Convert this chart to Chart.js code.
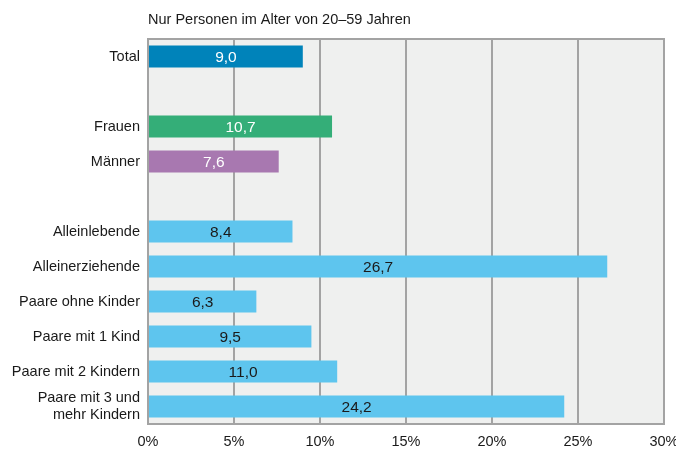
<!DOCTYPE html>
<html><head><meta charset="utf-8">
<script src="https://cdn.jsdelivr.net/npm/chart.js@4/dist/chart.umd.min.js"></script>
<style>html,body{margin:0;padding:0;background:#fff;}#wrap{width:676px;height:451px;}</style>
</head><body><div id="wrap"><canvas id="c" width="676" height="451"></canvas></div>
<script>
const categories = ["Total", "", "Frauen", "Männer", "", "Alleinlebende", "Alleinerziehende", "Paare ohne Kinder", "Paare mit 1 Kind", "Paare mit 2 Kindern", ["Paare mit 3 und", "mehr Kindern"]];
const values = [9.0, null, 10.7, 7.6, null, 8.4, 26.7, 6.3, 9.5, 11.0, 24.2];
const barColors = ["#0083BA", "#5EC5EE", "#34AE78", "#A878B0", "#5EC5EE", "#5EC5EE", "#5EC5EE", "#5EC5EE", "#5EC5EE", "#5EC5EE", "#5EC5EE"];
const labelColors = ["#ffffff", "#1a1a1a", "#ffffff", "#ffffff", "#1a1a1a", "#1a1a1a", "#1a1a1a", "#1a1a1a", "#1a1a1a", "#1a1a1a", "#1a1a1a"];
const xTicks = [0, 5, 10, 15, 20, 25, 30];
const titleText = "Nur Personen im Alter von 20–59 Jahren";

const FONT = "'Liberation Sans Narrow', 'Liberation Sans', Arial, sans-serif";

const bgPlugin = {
  id: 'bg',
  beforeDraw(chart) {
    const {ctx, chartArea: a} = chart;
    ctx.save();
    ctx.fillStyle = '#EFF0EF';
    ctx.fillRect(a.left, a.top, a.right - a.left, a.bottom - a.top);
    ctx.restore();
  },
  afterDraw(chart) {
    const {ctx, chartArea: a} = chart;
    ctx.save();
    ctx.strokeStyle = '#A3A3A3';
    ctx.lineWidth = 2;
    ctx.strokeRect(a.left, a.top, a.right - a.left, a.bottom - a.top);
    ctx.fillStyle = '#1a1a1a';
    ctx.font = "14.5px " + FONT;
    ctx.textAlign = 'left';
    ctx.textBaseline = 'middle';
    ctx.fillText(titleText, a.left, 20);
    const meta = chart.getDatasetMeta(0);
    ctx.font = "15.5px " + FONT;
    ctx.textAlign = 'center';
    meta.data.forEach((bar, i) => {
      const v = values[i];
      if (v === null || v === undefined) return;
      const x = (bar.x + bar.base) / 2;
      ctx.fillStyle = labelColors[i];
      ctx.fillText(v.toFixed(1).replace('.', ','), x, bar.y + 1);
    });
    ctx.restore();
  }
};

new Chart(document.getElementById('c'), {
  type: 'bar',
  data: {
    labels: categories,
    datasets: [{
      data: values,
      backgroundColor: barColors,
      borderWidth: 0,
      barPercentage: 0.63,
      categoryPercentage: 1.0
    }]
  },
  options: {
    indexAxis: 'y',
    responsive: false,
    animation: false,
    devicePixelRatio: 1,
    layout: { padding: { top: 39, right: 12, left: 0, bottom: 0 } },
    plugins: { legend: { display: false }, tooltip: { enabled: false } },
    scales: {
      x: {
        min: 0, max: 30,
        afterBuildTicks(scale) { scale.ticks = xTicks.map(v => ({ value: v })); },
        afterFit(scale) { scale.height = 27; scale.paddingRight = 0; scale.paddingLeft = 0; },
        ticks: {
          padding: 9,
          color: '#1a1a1a',
          font: { family: FONT, size: 14.5 },
          callback: v => v + '%'
        },
        grid: { color: '#A3A3A3', lineWidth: 2, drawTicks: false },
        border: { display: false }
      },
      y: {
        afterFit(scale) { scale.width = 148; scale.paddingTop = 0; scale.paddingBottom = 0; },
        ticks: {
          padding: 8,
          color: '#1a1a1a',
          font: { family: FONT, size: 14.5 },
          autoSkip: false
        },
        grid: { display: false, drawTicks: false },
        border: { display: true, color: '#A3A3A3', width: 2 }
      }
    }
  },
  plugins: [bgPlugin]
});
</script>
</body></html>
